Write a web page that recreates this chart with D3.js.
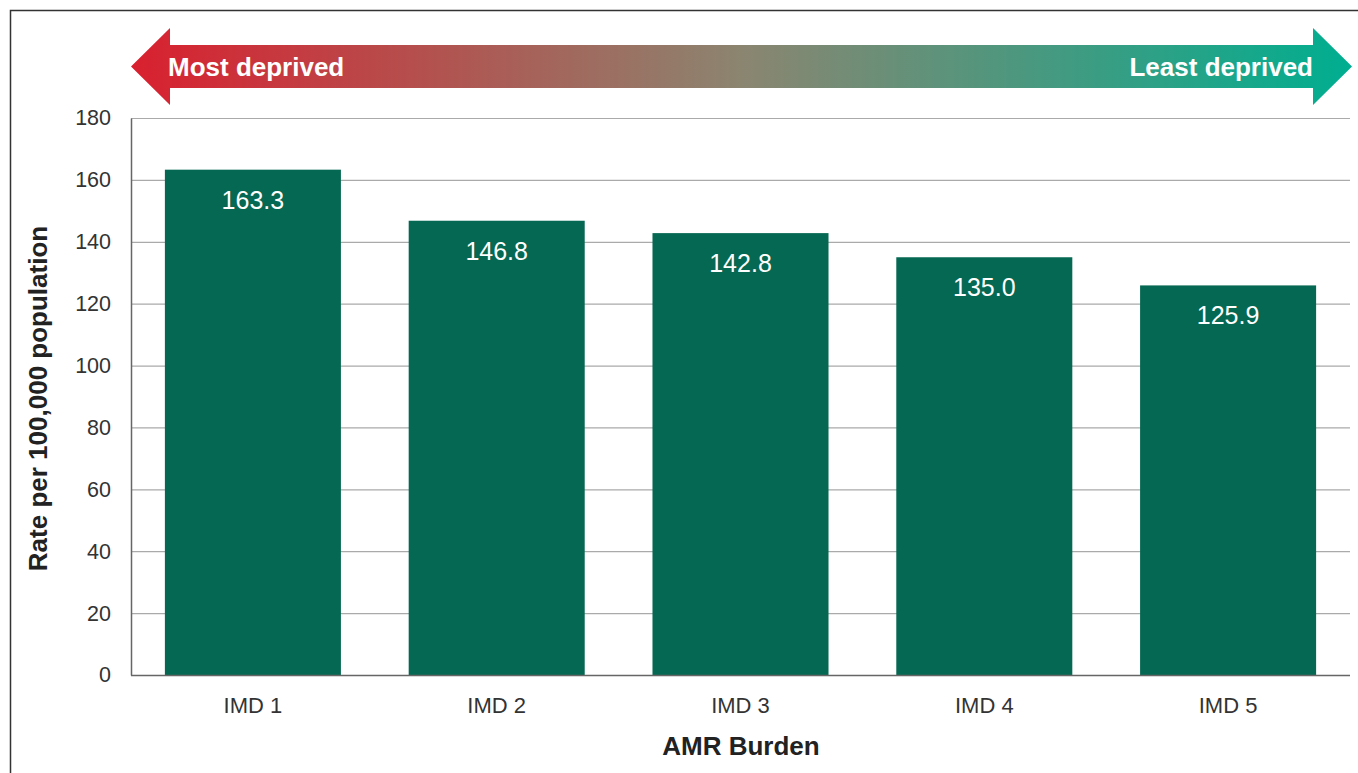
<!DOCTYPE html>
<html><head><meta charset="utf-8">
<script src="https://cdn.jsdelivr.net/npm/d3@7"></script>
<style>body{margin:0;background:#fff}svg{display:block}</style>
</head><body>
<script>
const categories = ["IMD 1","IMD 2","IMD 3","IMD 4","IMD 5"];
const values = [163.3,146.8,142.8,135.0,125.9];
const yTicks = [0,20,40,60,80,100,120,140,160,180];
const arrowLabels = ["Most deprived","Least deprived"];
const yTitle = "Rate per 100,000 population";
const xTitle = "AMR Burden";

const W=1358,H=773;
const svg=d3.select("body").append("svg").attr("width",W).attr("height",H);
const font="'Liberation Sans', Arial, sans-serif";
// frame
svg.append("path").attr("d",`M10.5,${H+2} V10.5 H${W+2}`).attr("fill","none").attr("stroke","#333").attr("stroke-width",1.5);

const m={l:131,r:1350,t:118,b:675};
const x=d3.scaleBand().domain(categories).range([m.l,m.r]).paddingInner(0.278).paddingOuter(0.139);
const y=d3.scaleLinear().domain([0,180]).range([m.b,m.t]);

// gridlines
svg.append("g").selectAll("line").data(yTicks.filter(d=>d>0)).join("line")
 .attr("x1",m.l).attr("x2",m.r).attr("y1",d=>y(d)+0.5).attr("y2",d=>y(d)+0.5)
 .attr("stroke","#aaa").attr("stroke-width",1.2);

// bars
svg.append("g").selectAll("rect").data(values).join("rect")
 .attr("x",(d,i)=>x(categories[i])).attr("width",x.bandwidth())
 .attr("y",d=>y(d)).attr("height",d=>y(0)-y(d)).attr("fill","#056852");

// value labels
svg.append("g").selectAll("text").data(values).join("text")
 .attr("x",(d,i)=>x(categories[i])+x.bandwidth()/2).attr("y",d=>y(d)+39)
 .attr("text-anchor","middle").attr("fill","#fff").attr("font-family",font).attr("font-size",25)
 .text(d=>d.toFixed(1));

// axes
const yAxis=svg.append("g").attr("transform",`translate(${m.l},0)`)
 .call(d3.axisLeft(y).tickValues(yTicks).tickSize(0).tickPadding(20));
yAxis.select(".domain").attr("stroke","#666").attr("stroke-width",1.5);
yAxis.selectAll("text").attr("font-family",font).attr("font-size",21.5).attr("fill","#333");

const xAxis=svg.append("g").attr("transform",`translate(0,${m.b})`)
 .call(d3.axisBottom(x).tickSize(0).tickPadding(22));
xAxis.select(".domain").attr("stroke","#666").attr("stroke-width",1.5).attr("d",`M${m.l},0.5H${m.r}`);
xAxis.selectAll("text").attr("font-family",font).attr("font-size",22).attr("fill","#333");

// titles
svg.append("text").attr("transform",`translate(47,${(m.t+m.b)/2+2}) rotate(-90)`)
 .attr("text-anchor","middle").attr("font-family",font).attr("font-weight","bold").attr("font-size",26).attr("fill","#222").text(yTitle);
svg.append("text").attr("x",741).attr("y",755)
 .attr("text-anchor","middle").attr("font-family",font).attr("font-weight","bold").attr("font-size",26).attr("fill","#222").text(xTitle);

// arrow
const defs=svg.append("defs");
const g=defs.append("linearGradient").attr("id","ag").attr("x1","0").attr("x2","1");
g.append("stop").attr("offset","0").attr("stop-color","#d9202f");
g.append("stop").attr("offset","0.5").attr("stop-color","#8b8570");
g.append("stop").attr("offset","1").attr("stop-color","#00ae90");
const ax0=131, ax1=1352, hl=39, st=45, sb=88, ht=28, hb=105, cy=(st+sb)/2;
svg.append("path").attr("fill","url(#ag)")
 .attr("d",`M${ax0},${cy} L${ax0+hl},${ht} L${ax0+hl},${st} L${ax1-hl},${st} L${ax1-hl},${ht} L${ax1},${cy} L${ax1-hl},${hb} L${ax1-hl},${sb} L${ax0+hl},${sb} L${ax0+hl},${hb} Z`);
svg.append("text").attr("x",168).attr("y",76).attr("font-family",font).attr("font-size",26).attr("font-weight","bold").attr("fill","#fff").text(arrowLabels[0]);
svg.append("text").attr("x",1313).attr("y",76).attr("text-anchor","end").attr("font-family",font).attr("font-size",26).attr("font-weight","bold").attr("fill","#fff").text(arrowLabels[1]);
</script>
</body></html>
